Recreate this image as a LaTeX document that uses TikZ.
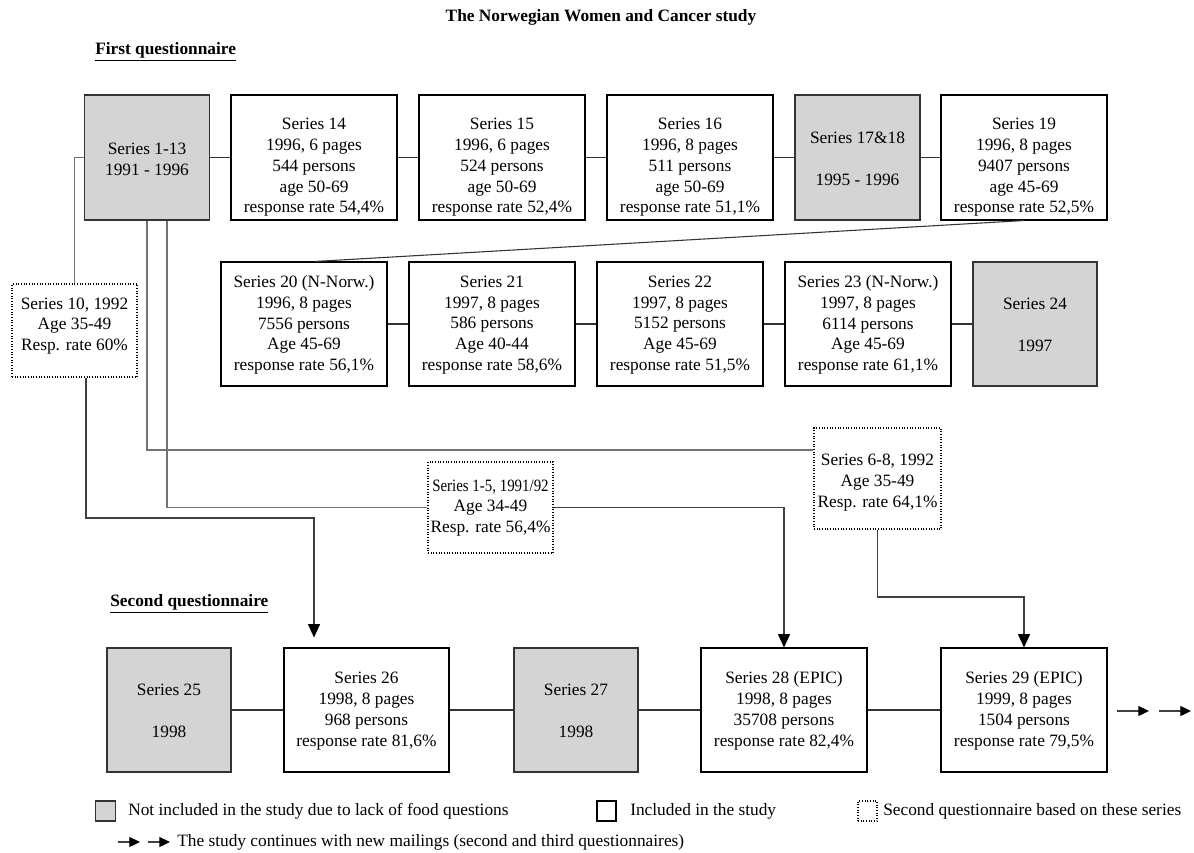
\documentclass[tikz,border=0pt]{standalone}
\usepackage{fontspec}
\setmainfont{Liberation Serif}
\usetikzlibrary{arrows.meta,calc}
\definecolor{boxgray}{RGB}{212,212,212}
\begin{document}
\begin{tikzpicture}[x=0.75pt,y=-0.75pt,
  every node/.style={font=\fontsize{13}{15.6}\selectfont},
  sz/.style 2 args={minimum width=#1*0.75pt, minimum height=#2*0.75pt},
  wbox/.style={draw=black, line width=0.8pt, fill=white, inner sep=0pt},
  gbox/.style={draw=black!80, line width=0.8pt, fill=boxgray, inner sep=0pt},
  dbox/.style={draw=black, line width=0.9pt, dash pattern=on 0.6pt off 1.4pt, fill=white, inner sep=0pt},
  txt/.style={align=center, inner sep=0pt},
  conn/.style={draw=black!80, line width=0.8pt},
  gconn/.style={draw=black!55, line width=1.2pt},
  arrconn/.style={draw=black!75, line width=0.8pt, -{Triangle[length=10pt,width=9pt,black]}},
  arr/.style={draw=black!75, line width=0.8pt, -{Triangle[length=8pt,width=7.5pt,black]}},
  head/.style={font=\bfseries\fontsize{13}{15.6}\selectfont, inner sep=0pt}
]
\useasboundingbox (0,0) rectangle (1194,852);

% title and headings
\node[head] (title) at (601,17) {The Norwegian Women and Cancer study};
\node[head, anchor=west] (h1) at (95,52) {\underline{First questionnaire}};
\node[head, anchor=west] (h2) at (110,604) {\underline{Second questionnaire}};

% ---- row 1
\node[gbox, sz={125}{125}] (s113) at (147,157.5) {};
\node[wbox, sz={166}{125}] (s14) at (314,157.5) {};
\node[wbox, sz={166}{125}] (s15) at (502,157.5) {};
\node[wbox, sz={166}{125}] (s16) at (690,157.5) {};
\node[gbox, sz={125}{125}] (s1718) at (857.5,157.5) {};
\node[wbox, sz={166}{125}] (s19) at (1024,157.5) {};

% ---- row 2
\node[wbox, sz={166}{124}] (s20) at (304,324) {};
\node[wbox, sz={166}{124}] (s21) at (492,324) {};
\node[wbox, sz={166}{124}] (s22) at (680,324) {};
\node[wbox, sz={166}{124}] (s23) at (868,324) {};
\node[gbox, sz={124}{124}] (s24) at (1035,324) {};

% ---- dotted boxes
\node[dbox, sz={125}{93}] (s10) at (74.5,330.5) {};
\node[dbox, sz={125}{91}] (s15d) at (490.5,507.5) {};
\node[dbox, sz={127}{101}] (s68) at (877.5,478.5) {};

% ---- row 3
\node[gbox, sz={124}{124}] (s25) at (169,710) {};
\node[wbox, sz={165}{124}] (s26) at (366.5,710) {};
\node[gbox, sz={124}{124}] (s27) at (576,710) {};
\node[wbox, sz={166}{124}] (s28) at (784,710) {};
\node[wbox, sz={166}{124}] (s29) at (1024,710) {};

% ---- texts
\node[txt] (s113t) at (147,159) {Series 1-13\\1991 - 1996};
\node[txt] (s14t) at (314,167.5) {Series 14\\1996, 6 pages\\544 persons\\age 50-69\\response rate 54,4\%};
\node[txt] (s15t) at (502,167.5) {Series 15\\1996, 6 pages\\524 persons\\age 50-69\\response rate 52,4\%};
\node[txt] (s16t) at (690,167.5) {Series 16\\1996, 8 pages\\511 persons\\age 50-69\\response rate 51,1\%};
\node[txt] (s1718t) at (857.5,158.5) {Series 17\&18\\[16pt]1995 - 1996};
\node[txt] (s19t) at (1024,167.5) {Series 19\\1996, 8 pages\\9407 persons\\age 45-69\\response rate 52,5\%};

\node[txt] (s20t) at (304,325) {Series 20 (N-Norw.)\\1996, 8 pages\\7556 persons\\Age 45-69\\response rate 56,1\%};
\node[txt] (s21t) at (492,325) {Series 21\\1997, 8 pages\\586 persons\\Age 40-44\\response rate 58,6\%};
\node[txt] (s22t) at (680,325) {Series 22\\1997, 8 pages\\5152 persons\\Age 45-69\\response rate 51,5\%};
\node[txt] (s23t) at (868,325) {Series 23 (N-Norw.)\\1997, 8 pages\\6114 persons\\Age 45-69\\response rate 61,1\%};
\node[txt] (s24t) at (1035,325) {Series 24\\[16pt]1997};

\node[txt] (s10t) at (74.5,326) {Series 10, 1992\\Age 35-49\\Resp. rate 60\%};
\node[txt] (s15dt) at (490.5,508) {\scalebox{0.86}[1]{Series 1-5, 1991/92}\\Age 34-49\\Resp. rate 56,4\%};
\node[txt] (s68t) at (877.5,482.5) {Series 6-8, 1992\\Age 35-49\\Resp. rate 64,1\%};

\node[txt] (s25t) at (169,711) {Series 25\\[16pt]1998};
\node[txt] (s26t) at (366.5,711) {Series 26\\1998, 8 pages\\968 persons\\response rate 81,6\%};
\node[txt] (s27t) at (576,711) {Series 27\\[16pt]1998};
\node[txt] (s28t) at (784,711) {Series 28 (EPIC)\\1998, 8 pages\\35708 persons\\response rate 82,4\%};
\node[txt] (s29t) at (1024,711) {Series 29 (EPIC)\\1999, 8 pages\\1504 persons\\response rate 79,5\%};

% ---- connectors row 1
\draw[conn] (s113) -- (s14);
\draw[conn] (s14) -- (s15);
\draw[conn] (s15) -- (s16);
\draw[conn] (s16) -- (s1718);
\draw[conn] (s1718) -- (s19);
\draw[conn] (s19.south) -- ([xshift=8.25pt]s20.north);
% row 2
\draw[conn] (s20) -- (s21);
\draw[conn] (s21) -- (s22);
\draw[conn] (s22) -- (s23);
\draw[conn] (s23) -- (s24);
% row 3
\draw[conn] (s25) -- (s26);
\draw[conn] (s26) -- (s27);
\draw[conn] (s27) -- (s28);
\draw[conn] (s28) -- (s29);

% ---- links to second questionnaire
\coordinate (k68) at (0,450);
\coordinate (k26) at (314,518);
\coordinate (k29) at (0,597);
\draw[gconn] (s113.west) -| (s10.north);
\draw[gconn] (s113.south) |- (s68.west |- k68);
\draw[gconn] ([xshift=15pt]s113.south) |- (s15d.west);
\draw[arrconn] (s15d.east) -| (s28.north);
\draw[arrconn, shorten >=7.5pt] ([xshift=8.6pt]s10.south) |- (k26) -- (k26 |- s26.north);
\draw[arrconn] (s68.south) |- (k29 -| s29.north) -- (s29.north);

% ---- continuation arrows
\coordinate (m1) at (1117,711);
\coordinate (m2) at (1149,711);
\coordinate (m3) at (1159,711);
\coordinate (m4) at (1191,711);
\draw[arr] (m1) -- (m2);
\draw[arr] (m3) -- (m4);

% ---- legend
\node[gbox, sz={20}{20}] (lg1) at (105.5,811) {};
\node[txt, anchor=west] (lt1) at (128,811) {Not included in the study due to lack of food questions};
\node[wbox, line width=1.1pt, sz={19}{20}] (lg2) at (606.5,811) {};
\node[txt, anchor=west] (lt2) at (630,811) {Included in the study};
\node[dbox, sz={19}{20}] (lg3) at (867.5,811) {};
\node[txt, anchor=west] (lt3) at (883,811) {Second questionnaire based on these series};
\coordinate (n1) at (118,842);
\coordinate (n2) at (140,842);
\coordinate (n3) at (148,842);
\coordinate (n4) at (170,842);
\draw[arr] (n1) -- (n2);
\draw[arr] (n3) -- (n4);
\node[txt, anchor=west] (lt4) at (177,842) {The study continues with new mailings (second and third questionnaires)};
\end{tikzpicture}
\end{document}
